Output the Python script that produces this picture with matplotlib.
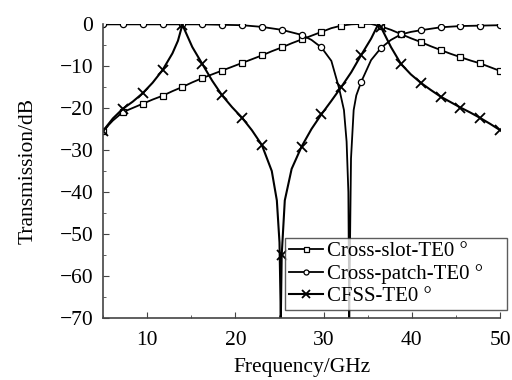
import numpy as np
import matplotlib.pyplot as plt
from matplotlib.ticker import MultipleLocator

plt.rcParams['font.family'] = 'Liberation Serif'

# Cross-slot (band-pass, square markers)
f_slot = [5, 6.125, 7.25, 8.375, 9.5, 10.625, 11.75, 12.875, 14, 15.125, 16.25,
          17.375, 18.5, 19.625, 20.75, 21.875, 23, 24.125, 25.25, 26.375, 27.5,
          28.625, 29.75, 30.875, 32, 33.125, 34.25, 35.375, 36.5, 37.625, 38.75,
          39.875, 41, 42.125, 43.25, 44.375, 45.5, 46.625, 47.75, 48.875, 50]
t_slot = [-25.5, -23.0, -21.0, -20.0, -19.0, -18.0, -17.1, -16.0, -15.0, -13.9, -12.9,
          -12.0, -11.1, -10.2, -9.3, -8.4, -7.5, -6.5, -5.6, -4.6, -3.7,
          -2.8, -1.9, -1.0, -0.4, -0.1, 0.0, 0.0, -0.6, -1.4, -2.4,
          -3.4, -4.3, -5.3, -6.2, -7.1, -7.9, -8.7, -9.4, -10.3, -11.2]

# Cross-patch (band-stop, circle markers)
f_patch = [5, 7.25, 9.5, 11.75, 14, 16.25, 18.5, 20.75, 23, 25.25, 27.5, 28.625,
           29.75, 30.875, 31.75, 32.3, 32.6, 32.8, 32.9, 33.0, 33.1, 33.4, 33.7,
           34.25, 35.375, 36.5, 37.625, 38.75, 39.875, 41, 43.25, 45.5, 47.75, 50]
t_patch = [-0.1, -0.1, -0.1, -0.1, -0.1, -0.1, -0.2, -0.3, -0.7, -1.4, -2.6, -3.8,
           -5.6, -8.8, -15.3, -20.5, -28.0, -40.0, -70.0, -50.0, -32.0, -20.5, -17.0,
           -13.8, -8.6, -5.7, -3.8, -2.5, -1.9, -1.5, -0.8, -0.5, -0.4, -0.3]

# CFSS (dual band, x markers)
f_cfss = [5, 6.125, 7.25, 8.375, 9.5, 10.625, 11.75, 12.875, 13.5, 14, 15.125, 16.25,
          17.375, 18.5, 19.625, 20.75, 21.875, 23, 24.125, 24.7, 25.0, 25.15, 25.25,
          25.6, 26.375, 27.5, 28.625, 29.75, 30.875, 32, 33.125, 34.25, 35.375, 36.2,
          36.5, 37.625, 38.75, 39.875, 41, 42.125, 43.25, 44.375, 45.5, 46.625, 47.75,
          48.875, 50]
t_cfss = [-25.5, -22.5, -20.2, -18.5, -16.5, -14.0, -11.0, -7.0, -4.0, -0.2, -5.5, -9.5,
          -13.5, -17.0, -19.8, -22.3, -25.3, -28.8, -35.0, -42.0, -52.0, -70.0, -55.0,
          -42.0, -34.5, -29.2, -25.0, -21.5, -18.3, -15.0, -11.5, -7.4, -3.5, 0.0,
          -0.8, -5.5, -9.5, -12.0, -14.0, -15.7, -17.3, -18.6, -19.9, -21.1, -22.4,
          -23.8, -25.3]


def on_grid(f):
    # markers sit every 2.25 GHz starting at 5 GHz
    f = np.asarray(f)
    k = (f - 5) / 2.25
    return list(np.isclose(k, np.round(k)))


fs = 15.5
fig = plt.figure(figsize=(5.12, 3.8), dpi=100)
ax = fig.add_axes([0.201, 0.163, 0.776, 0.774])

ax.plot(f_slot, t_slot, '-s', color='black', lw=1.3, ms=4.5, mfc='white', mew=0.9,
        markevery=on_grid(f_slot), label='Cross-slot-TE0 °')
ax.plot(f_patch, t_patch, '-o', color='black', lw=1.3, ms=4.5, mfc='white', mew=0.9,
        markevery=on_grid(f_patch), label='Cross-patch-TE0 °')
ax.plot(f_cfss, t_cfss, '-x', color='black', lw=1.5, ms=6.5, mew=1.3,
        markevery=on_grid(f_cfss), label='CFSS-TE0 °')

ax.set_xlim(5, 50)
ax.set_ylim(-70, 0)
ax.xaxis.set_major_locator(MultipleLocator(10))
ax.xaxis.set_minor_locator(MultipleLocator(5))
ax.yaxis.set_major_locator(MultipleLocator(10))
ax.yaxis.set_minor_locator(MultipleLocator(5))
ax.tick_params(which='both', direction='in', labelsize=fs, color='#444444', pad=7)
ax.tick_params(axis='x', pad=9)
ax.tick_params(which='major', length=4)
ax.tick_params(which='minor', length=2.5)
for s in ['top', 'right']:
    ax.spines[s].set_visible(False)
for s in ['left', 'bottom']:
    ax.spines[s].set_color('#444444')
    ax.spines[s].set_linewidth(1.2)

ax.set_xlabel('Frequency/GHz', fontsize=fs, labelpad=6)
ax.set_ylabel('Transmission/dB', fontsize=fs, labelpad=16)

leg = ax.legend(loc='lower left', bbox_to_anchor=(285 / 512, 0.184, 222 / 512, 0.2),
                bbox_transform=fig.transFigure, mode='expand',
                fontsize=15, frameon=True, fancybox=False, edgecolor='#333333',
                handlelength=1.6, handletextpad=0.2, borderpad=0.2, labelspacing=0.12,
                borderaxespad=0, markerscale=0.8)
leg.get_frame().set_linewidth(1.0)

fig.savefig('out.png', dpi=100)
